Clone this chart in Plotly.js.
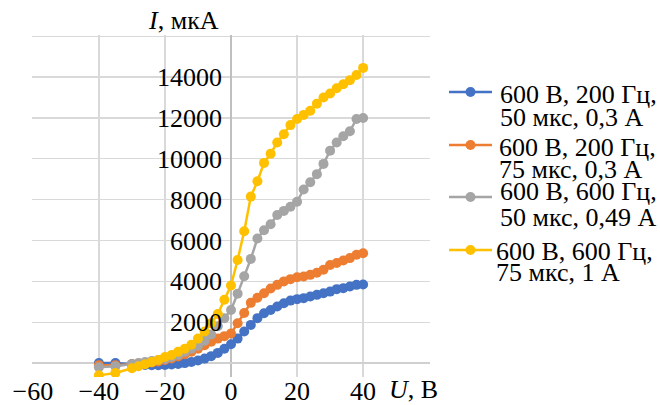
<!DOCTYPE html>
<html>
<head>
<meta charset="utf-8">
<script src="https://cdn.plot.ly/plotly-3.0.1.min.js"></script>
<style>
html,body{margin:0;padding:0;background:#fff;}
#chart{width:660px;height:405px;}
</style>
</head>
<body>
<div id="chart"></div>
<script>
// ---- data ----
const U = [-40,-35,-30,-28,-26,-24,-22,-20,-18,-16,-14,-12,-10,-8,-6,-4,-2,0,2,4,6,8,10,12,14,16,18,20,22,24,26,28,30,32,34,36,38,40];
const I_blue   = [0,0,-60,-80,-90,-100,-100,-90,-70,-40,0,60,130,220,340,500,700,920,1200,1550,1870,2200,2440,2600,2770,2930,3060,3130,3180,3260,3340,3420,3500,3620,3670,3750,3830,3850];
const I_orange = [-100,-100,-50,-20,0,30,80,150,230,320,430,560,700,880,1050,1200,1320,1450,1950,2450,2950,3200,3420,3650,3830,4000,4110,4200,4240,4320,4420,4570,4800,4900,5020,5140,5300,5380];
const I_gray   = [-200,-150,-50,0,50,100,150,200,300,400,550,700,850,1100,1400,1800,2200,2600,3400,4250,5100,6100,6500,6800,7250,7450,7650,7900,8500,8850,9250,9750,10400,10800,11100,11350,11950,12000];
const I_yellow = [-600,-480,-250,-150,-50,50,150,300,400,550,700,900,1200,1550,1950,2400,3100,3800,5050,6450,8150,8900,9800,10250,10800,11200,11650,11950,12150,12350,12700,13000,13200,13450,13650,13850,14100,14450];
const seriesNames = [
  ["600 В, 200 Гц,", "50 мкс, 0,3 А"],
  ["600 В, 200 Гц,", "75 мкс, 0,3 А"],
  ["600 В, 600 Гц,", "50 мкс, 0,49 А"],
  ["600 В, 600 Гц,", "75 мкс, 1 А"]
];
const colors = ["#4472C4", "#ED7D31", "#A5A5A5", "#FFC000"];
const xTickVals = [-60,-40,-20,0,20,40,60];
const xTickText = ["\u221260","\u221240","\u221220","0","20","40",""];
const yTickVals = [0,2000,4000,6000,8000,10000,12000,14000,16000];
const yTickText = ["","2000","4000","6000","8000","10000","12000","14000",""];
const xTitle = "<i>U</i>, В";
const yTitle = "<i>I</i>, мкА";

// ---- layout helpers ----
const W = 660, H = 405;
const M = {l: 32, r: 230, t: 35, b: 28};
const pw = W - M.l - M.r, ph = H - M.t - M.b;
const px2x = p => (p - M.l) / pw;
const py2y = p => (H - M.b - p) / ph;
const FONT = "Liberation Serif, Times New Roman, serif";

const ys = [I_blue, I_orange, I_gray, I_yellow];
const traces = ys.map((y, k) => ({
  type: "scatter", mode: "lines+markers", x: U, y: y,
  name: seriesNames[k].join(" "),
  line: {color: colors[k], width: 2.5},
  marker: {color: colors[k], size: 10, symbol: "circle"},
  showlegend: false
}));

// legend (manual, to match the tight line spacing of the original)
const glyphY = [92, 145, 197, 250];
const textY = [[94, 117], [147, 169], [192, 217], [251, 272]];
const textX = [498, 497, 498, 494];
const shapes = [], annotations = [];
for (let k = 0; k < 4; k++) {
  shapes.push({type: "line", xref: "paper", yref: "paper",
    x0: px2x(449), x1: px2x(492), y0: py2y(glyphY[k]), y1: py2y(glyphY[k]),
    line: {color: colors[k], width: 2.5}});
  shapes.push({type: "circle", xref: "paper", yref: "paper",
    xsizemode: "pixel", ysizemode: "pixel",
    xanchor: px2x(470.5), yanchor: py2y(glyphY[k]),
    x0: -5, x1: 5, y0: -5, y1: 5,
    fillcolor: colors[k], line: {color: colors[k], width: 0}});
  for (let j = 0; j < 2; j++) {
    annotations.push({text: seriesNames[k][j], xref: "paper", yref: "paper",
      x: px2x(textX[k]), y: py2y(textY[k][j]), xanchor: "left", yanchor: "middle",
      showarrow: false, font: {family: FONT, size: 26, color: "#000"}});
  }
}
annotations.push({text: yTitle, xref: "x", yref: "paper", x: -3, y: 1, xanchor: "right", yanchor: "bottom",
  yshift: -2, showarrow: false, font: {family: FONT, size: 26, color: "#000"}});
annotations.push({text: xTitle, xref: "paper", yref: "paper", x: px2x(440), y: py2y(389), xanchor: "right", yanchor: "middle",
  showarrow: false, font: {family: FONT, size: 26, color: "#000"}});

const layout = {
  width: W, height: H,
  margin: M,
  paper_bgcolor: "#fff", plot_bgcolor: "#fff",
  font: {family: FONT, size: 26, color: "#000"},
  showlegend: false,
  xaxis: {
    range: [-60.25, 60.25], tickmode: "array", tickvals: xTickVals, ticktext: xTickText,
    showgrid: true, gridcolor: "#d9d9d9", gridwidth: 1.3,
    zeroline: true, zerolinecolor: "#bfbfbf", zerolinewidth: 1.5,
    showline: false, ticks: "", ticklabelstandoff: -4,
    tickfont: {family: FONT, size: 26, color: "#000"}
  },
  yaxis: {
    range: [-680, 16060], tickmode: "array", tickvals: yTickVals, ticktext: yTickText,
    anchor: "free", position: 0.5,
    showgrid: true, gridcolor: "#d9d9d9", gridwidth: 1.3,
    zeroline: true, zerolinecolor: "#d0d0d0", zerolinewidth: 1.3,
    showline: false, ticks: "", ticklabelstandoff: 9,
    tickfont: {family: FONT, size: 26, color: "#000"}
  },
  shapes: shapes,
  annotations: annotations
};

Plotly.newPlot("chart", traces, layout, {staticPlot: true, displayModeBar: false});
</script>
</body>
</html>
